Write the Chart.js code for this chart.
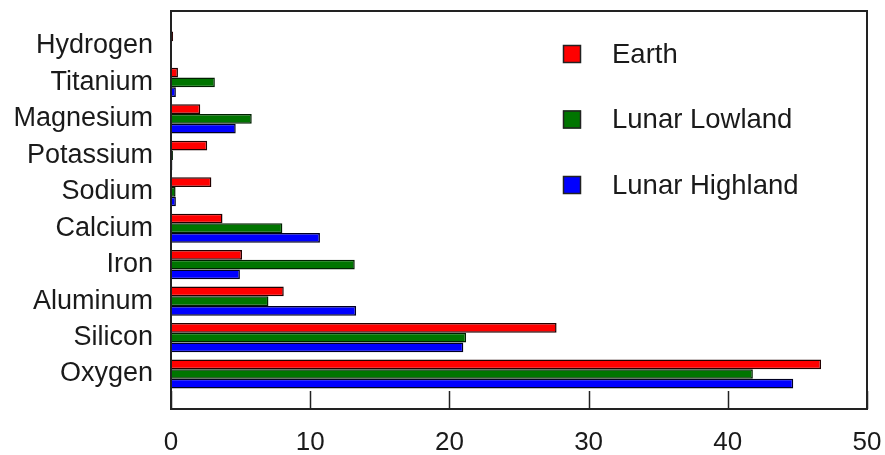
<!DOCTYPE html>
<html>
<head>
<meta charset="utf-8">
<script src="https://cdn.jsdelivr.net/npm/chart.js@4/dist/chart.umd.min.js"></script>
<style>
  html, body { margin: 0; padding: 0; background: #fff; }
  canvas { display: block; }
</style>
</head>
<body>
<canvas id="elementsChart" width="885" height="455"></canvas>
<script>
// bottom to top, like the picture
const elements = ['Oxygen', 'Silicon', 'Aluminum', 'Iron', 'Calcium', 'Sodium', 'Potassium', 'Magnesium', 'Titanium', 'Hydrogen'];
const earth = [46.7, 27.7, 8.1, 5.1, 3.7, 2.9, 2.6, 2.1, 0.5, 0.15];
const lunarLowland = [41.8, 21.2, 7.0, 13.2, 8.0, 0.33, 0.14, 5.8, 3.15, 0];
const lunarHighland = [44.7, 21.0, 13.3, 4.95, 10.7, 0.35, 0.1, 4.65, 0.35, 0];
const xTicks = [0, 10, 20, 30, 40, 50];

const fontFamily = '"Liberation Sans", Arial, sans-serif';
const textColor = '#1a1a1a';

const toPoints = (values) => values.map((v, i) => ({ x: v, y: i }));

// frame + inward ticks on the bottom edge
const framePlugin = {
    id: 'frame',
    afterDatasetsDraw(chart) {
        const { ctx, chartArea } = chart;
        const xScale = chart.scales.x;
        ctx.save();
        ctx.strokeStyle = '#222';
        ctx.lineWidth = 1.5;
        xTicks.forEach(t => {
            const px = Math.round(xScale.getPixelForValue(t)) + 0.5;
            ctx.beginPath();
            ctx.moveTo(px, chartArea.bottom);
            ctx.lineTo(px, chartArea.bottom - 18);
            ctx.stroke();
        });
        ctx.lineWidth = 2;
        ctx.strokeRect(chartArea.left, chartArea.top, chartArea.right - chartArea.left, chartArea.bottom - chartArea.top);
        ctx.restore();
    }
};

// legend drawn inside the plot, top right
const legendPlugin = {
    id: 'insideLegend',
    afterDraw(chart) {
        const { ctx } = chart;
        ctx.save();
        ctx.font = '27.5px ' + fontFamily;
        ctx.textBaseline = 'middle';
        chart.data.datasets.forEach((ds, i) => {
            const y = 45 + i * 65.5;
            ctx.fillStyle = ds.backgroundColor;
            ctx.fillRect(563, y, 18, 18);
            ctx.strokeStyle = '#222';
            ctx.lineWidth = 1.5;
            ctx.strokeRect(563.5, y + 0.5, 17, 17);
            ctx.fillStyle = textColor;
            ctx.fillText(ds.label, 612, y + 10);
        });
        ctx.restore();
    }
};

new Chart(document.getElementById('elementsChart'), {
    type: 'bar',
    data: {
        datasets: [{
            label: 'Earth',
            data: toPoints(earth),
            backgroundColor: '#ff0000',
            borderColor: '#220000',
            borderWidth: 1.5
        }, {
            label: 'Lunar Lowland',
            data: toPoints(lunarLowland),
            backgroundColor: '#007500',
            borderColor: '#002000',
            borderWidth: 1.5
        }, {
            label: 'Lunar Highland',
            data: toPoints(lunarHighland),
            backgroundColor: '#0000ff',
            borderColor: '#000022',
            borderWidth: 1.5
        }]
    },
    options: {
        indexAxis: 'y',
        responsive: false,
        animation: false,
        devicePixelRatio: 1,
        categoryPercentage: 0.8,
        barPercentage: 1,
        layout: { padding: { top: 11, right: 18, left: 0, bottom: 0 } },
        plugins: {
            legend: { display: false },
            tooltip: { enabled: false }
        },
        scales: {
            x: {
                type: 'linear',
                min: 0,
                max: 50,
                afterBuildTicks: (scale) => {
                    scale.ticks = xTicks.map(v => ({ value: v }));
                },
                afterFit: (scale) => {
                    scale.height = 46;
                    scale.paddingLeft = 0;
                    scale.paddingRight = 0;
                },
                grid: { display: false },
                border: { display: false },
                ticks: {
                    padding: 10,
                    color: textColor,
                    font: { family: fontFamily, size: 26 }
                }
            },
            y: {
                type: 'linear',
                offset: false,
                min: -0.96,
                max: 9.96,
                afterBuildTicks: (scale) => {
                    scale.ticks = elements.map((_, i) => ({ value: i }));
                },
                afterFit: (scale) => {
                    scale.width = 171;
                    scale.paddingTop = 0;
                    scale.paddingBottom = 0;
                },
                grid: { display: false, offset: false },
                border: { display: false },
                ticks: {
                    padding: 10,
                    color: textColor,
                    font: { family: fontFamily, size: 27 },
                    callback: (value) => elements[value]
                }
            }
        }
    },
    plugins: [framePlugin, legendPlugin]
});
</script>
</body>
</html>
